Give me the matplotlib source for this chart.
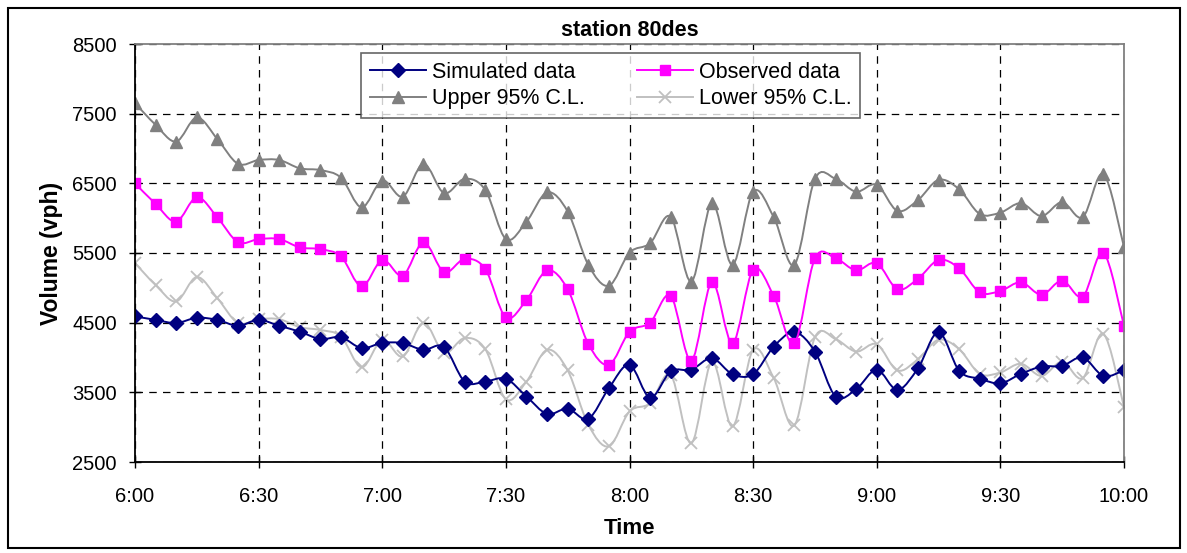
import numpy as np
import matplotlib.pyplot as plt
from matplotlib.path import Path
from matplotlib.patches import PathPatch, Rectangle
from matplotlib.lines import Line2D

plt.rcParams['font.family'] = ['Liberation Sans', 'DejaVu Sans']

# minutes after 6:00, every 5 min
minutes = np.arange(0, 241, 5)
tick_pos = [0, 30, 60, 90, 120, 150, 180, 210, 240]
tick_labels = ['6:00', '6:30', '7:00', '7:30', '8:00', '8:30', '9:00', '9:30', '10:00']

simulated = [4590, 4540, 4495, 4570, 4540, 4455, 4540, 4455, 4370, 4265, 4290, 4135, 4210,
             4205, 4110, 4150, 3655, 3655, 3695, 3440, 3190, 3265, 3120, 3560, 3895,
             3425, 3800, 3825, 3990, 3760, 3760, 4155, 4365, 4085, 3440, 3545, 3825,
             3535, 3845, 4365, 3810, 3695, 3630, 3765, 3870, 3880, 4000, 3735, 3815]
observed = [6500, 6205, 5950, 6300, 6010, 5655, 5700, 5700, 5580, 5555, 5450, 5020, 5400,
            5175, 5655, 5225, 5415, 5270, 4575, 4825, 5250, 4980, 4195, 3895, 4370,
            4500, 4885, 3955, 5080, 4205, 5260, 4885, 4205, 5425, 5425, 5250, 5355,
            4980, 5130, 5400, 5280, 4935, 4955, 5080, 4900, 5105, 4875, 5505, 4455]
upper = [7650, 7340, 7100, 7445, 7135, 6780, 6835, 6835, 6715, 6690, 6580, 6155, 6540,
         6310, 6780, 6360, 6565, 6405, 5700, 5950, 6370, 6095, 5330, 5030, 5505,
         5640, 6020, 5090, 6215, 5330, 6380, 6015, 5330, 6565, 6565, 6380, 6480,
         6105, 6260, 6550, 6415, 6060, 6080, 6215, 6030, 6230, 6015, 6635, 5585]
lower = [5355, 5040, 4805, 5155, 4850, 4495, 4550, 4550, 4435, 4395, 4300, 3860, 4255,
         4015, 4500, 4070, 4280, 4120, 3400, 3655, 4110, 3815, 3035, 2725, 3225,
         3345, 3750, 2770, 3940, 3010, 4110, 3705, 3025, 4290, 4265, 4085, 4190,
         3815, 3975, 4255, 4120, 3765, 3785, 3910, 3735, 3940, 3705, 4340, 3290]


def smooth_path(x, y):
    # Excel-like smoothed line: Catmull-Rom segments as cubic Beziers
    x = np.asarray(x, float)
    y = np.asarray(y, float)
    n = len(x)
    verts = [(x[0], y[0])]
    codes = [Path.MOVETO]
    for i in range(n - 1):
        i0 = max(i - 1, 0)
        i3 = min(i + 2, n - 1)
        c1 = (x[i] + (x[i + 1] - x[i0]) / 6, y[i] + (y[i + 1] - y[i0]) / 6)
        c2 = (x[i + 1] - (x[i3] - x[i]) / 6, y[i + 1] - (y[i3] - y[i]) / 6)
        verts += [c1, c2, (x[i + 1], y[i + 1])]
        codes += [Path.CURVE4] * 3
    return Path(verts, codes)


fig = plt.figure(figsize=(11.87, 5.53), dpi=100)
ax = fig.add_axes([135 / 1187, 1 - 462 / 553, 989 / 1187, 418 / 553])

series = [
    ('Simulated data', simulated, '#000080', 'D', 7, 2),
    ('Observed data', observed, '#FF00FF', 's', 7.5, 4),
    ('Upper 95% C.L.', upper, '#808080', '^', 8.5, 3),
    ('Lower 95% C.L.', lower, '#C0C0C0', 'x', 8, 1),
]
handles = {}
for name, vals, col, mk, ms, z in series:
    ax.add_patch(PathPatch(smooth_path(minutes, vals), facecolor='none',
                           edgecolor=col, lw=1.4, zorder=z))
    if mk == 'x':
        ax.plot(minutes, vals, ls='none', marker=mk, ms=ms, color=col, mew=1.3, zorder=z)
    else:
        ax.plot(minutes, vals, ls='none', marker=mk, ms=ms, color=col, mec=col, zorder=z)
    handles[name] = Line2D([], [], color=col, lw=1.4, marker=mk, ms=ms,
                           mew=1.3 if mk == 'x' else 1)

ax.set_xlim(0, 240)
ax.set_ylim(2500, 8500)
ax.set_xticks(tick_pos)
ax.set_xticklabels(tick_labels)
ax.set_yticks(np.arange(2500, 8501, 1000))
ax.tick_params(direction='inout', length=8, width=1, labelsize=14.5)
ax.tick_params(axis='x', pad=14)
ax.tick_params(axis='y', pad=9)
ax.grid(True, color='black', ls=(0, (6, 5)), lw=0.9)
ax.spines['top'].set_color('#808080')
ax.spines['right'].set_color('#808080')
for s in ax.spines.values():
    s.set_linewidth(1.3)
    s.set_zorder(5)

ax.set_xlabel('Time', fontsize=16, fontweight='bold', labelpad=9)
ax.set_ylabel('Volume (vph)', fontsize=16.5, fontweight='bold', labelpad=7)
ax.set_title('station 80des', fontsize=15.5, fontweight='bold', pad=6)

# column-wise fill: Simulated/Upper in col 1, Observed/Lower in col 2
order = ['Simulated data', 'Upper 95% C.L.', 'Observed data', 'Lower 95% C.L.']
leg = ax.legend([handles[k] for k in order], order, ncol=2, loc='upper center',
                bbox_to_anchor=(0.481, 0.978), fontsize=15.5, frameon=True, fancybox=False,
                borderpad=0.4, handlelength=2.6, columnspacing=2.4, labelspacing=0.25,
                handletextpad=0.3, borderaxespad=0)
leg.get_frame().set_edgecolor('#404040')
leg.get_frame().set_linewidth(1.2)

fig.patches.append(Rectangle((8 / 1187, 5 / 553), 1172 / 1187, 540 / 553, transform=fig.transFigure,
                             fill=False, edgecolor='black', lw=1.5))

fig.savefig('out.png', dpi=100)
